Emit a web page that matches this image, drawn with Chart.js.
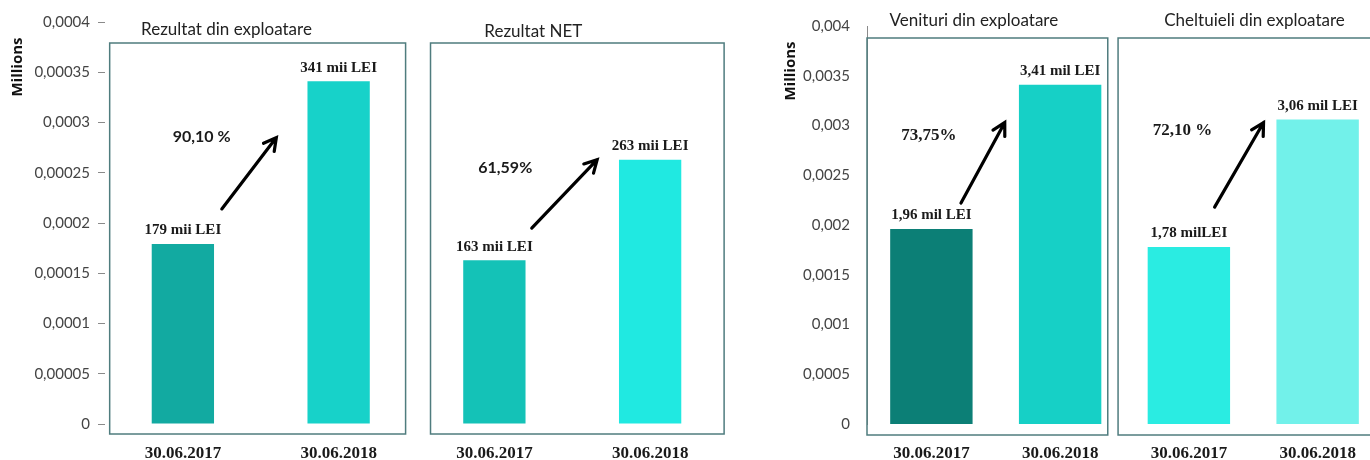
<!DOCTYPE html>
<html>
<head>
<meta charset="utf-8">
<script src="https://cdn.jsdelivr.net/npm/chart.js@4.4.1/dist/chart.umd.min.js"></script>
<style>
  body { margin: 0; background: #fff; overflow: hidden; width: 1370px; height: 460px; position: relative; }
  #left { position: absolute; left: 0; top: 0; }
  #right { position: absolute; left: 745px; top: 0; }
</style>
</head>
<body>
<canvas id="left" width="740" height="460"></canvas>
<canvas id="right" width="640" height="460"></canvas>
<script>
const dates = ["30.06.2017", "30.06.2018"];

const rezultatExploatare = [0.000179, 0.000341];
const rezultatNet = [0.000163, 0.000263];
const venituriExploatare = [0.00196, 0.00341];
const cheltuieliExploatare = [0.00178, 0.00306];

const labelsLeft = ["179 mii LEI", "341 mii LEI", "163 mii LEI", "263 mii LEI"];
const labelsRight = ["1,96 mil LEI", "3,41 mil LEI", "1,78 milLEI", "3,06 mil LEI"];

const growthLeft = ["90,10 %", "61,59%"];
const growthRight = ["73,75%", "72,10 %"];

const titlesLeft = ["Rezultat din exploatare", "Rezultat NET"];
const titlesRight = ["Venituri din exploatare", "Cheltuieli din exploatare"];

const ticksLeft = [0, 0.00005, 0.0001, 0.00015, 0.0002, 0.00025, 0.0003, 0.00035, 0.0004];
const ticksRight = [0, 0.0005, 0.001, 0.0015, 0.002, 0.0025, 0.003, 0.0035, 0.004];

const unitTitle = "Millions";

// draws the panel frames, titles, value labels, growth % and arrows
const panelPlugin = {
  id: "panels",
  afterDatasetsDraw(chart, args, opts) {
    const ctx = chart.ctx;
    const xs = chart.scales.x;
    const ys = chart.scales.y;
    const area = chart.chartArea;
    ctx.save();

    ctx.strokeStyle = "#4f7c7e";
    ctx.lineWidth = 1.5;
    opts.boxes.forEach(b => {
      const x1 = xs.getPixelForValue(b[0]);
      const x2 = xs.getPixelForValue(b[1]);
      const y1 = area.top + opts.boxTop;
      const y2 = area.bottom + opts.boxBottom;
      ctx.strokeRect(x1, y1, x2 - x1, y2 - y1);
    });

    // panel titles
    ctx.fillStyle = "#222";
    ctx.font = "17px Lato";
    ctx.textAlign = "center";
    ctx.textBaseline = "middle";
    opts.titles.forEach((t, i) => {
      ctx.fillText(opts.titleText[i], xs.getPixelForValue(t[0]), t[1]);
    });

    // value labels over bars
    ctx.font = "bold 15px 'Liberation Serif'";
    ctx.textBaseline = "bottom";
    ctx.fillStyle = "#1a1a1a";
    chart.getDatasetMeta(0).data.forEach((bar, i) => {
      ctx.fillText(opts.valueLabels[i], bar.x, bar.y - 6);
    });

    // growth percentages
    ctx.font = opts.growthFont;
    ctx.textBaseline = "middle";
    opts.growth.forEach((g, i) => {
      ctx.fillText(opts.growthText[i], xs.getPixelForValue(g[0]), ys.getPixelForValue(g[1]));
    });

    // arrows
    ctx.strokeStyle = "#000";
    ctx.lineWidth = 3.2;
    ctx.lineCap = "round";
    opts.arrows.forEach(a => {
      const x1 = xs.getPixelForValue(a[0]), y1 = ys.getPixelForValue(a[1]);
      const x2 = xs.getPixelForValue(a[2]), y2 = ys.getPixelForValue(a[3]);
      const ang = Math.atan2(y2 - y1, x2 - x1);
      ctx.beginPath();
      ctx.moveTo(x1, y1);
      ctx.lineTo(x2, y2);
      ctx.moveTo(x2 - 14 * Math.cos(ang - 0.5), y2 - 14 * Math.sin(ang - 0.5));
      ctx.lineTo(x2, y2);
      ctx.lineTo(x2 - 14 * Math.cos(ang + 0.5), y2 - 14 * Math.sin(ang + 0.5));
      ctx.stroke();
    });

    // unit title
    ctx.save();
    ctx.translate(opts.unitX, area.top + 45);
    ctx.rotate(-Math.PI / 2);
    ctx.font = "bold 15px 'Open Sans'";
    ctx.fillStyle = "#111";
    ctx.textAlign = "center";
    ctx.textBaseline = "middle";
    ctx.fillText(unitTitle, 0, 0);
    ctx.restore();

    ctx.restore();
  }
};

function fmt(v) {
  return String(v).replace(".", ",");
}

function makeChart(id, values, colors, tickValues, barPct, yWidth, padRight, tickOpts, panels) {
  return new Chart(document.getElementById(id), {
    type: "bar",
    data: {
      labels: [...dates, ...dates],
      datasets: [{
        data: values,
        backgroundColor: colors,
        borderWidth: 0,
        barPercentage: barPct,
        categoryPercentage: 1
      }]
    },
    options: {
      responsive: false,
      animation: false,
      layout: { padding: { top: 22, right: padRight, left: 0, bottom: 0 } },
      plugins: {
        legend: { display: false },
        tooltip: { enabled: false },
        panels: panels
      },
      scales: {
        x: {
          grid: { display: false, drawTicks: false },
          border: { display: false },
          ticks: {
            padding: 19,
            maxRotation: 0,
            autoSkip: false,
            color: "#1a1a1a",
            font: { family: "Liberation Serif", weight: "bold", size: 17 }
          },
          afterFit(scale) { scale.height = 36; }
        },
        y: {
          min: tickValues[0],
          max: tickValues[tickValues.length - 1],
          afterBuildTicks(scale) { scale.ticks = tickValues.map(v => ({ value: v })); },
          grid: tickOpts.grid,
          border: tickOpts.border,
          ticks: {
            padding: tickOpts.padding,
            color: "#444",
            font: { family: "Lato", size: 15 },
            callback: v => fmt(v)
          },
          afterFit(scale) { scale.width = yWidth; }
        }
      }
    },
    plugins: [panelPlugin]
  });
}

makeChart("left",
  [...rezultatExploatare, ...rezultatNet],
  ["#12aaa1", "#17d2c9", "#14c2b7", "#20e9e1"],
  ticksLeft, 0.4, 105, 12,
  {
    grid: { display: true, drawOnChartArea: false, drawTicks: true, tickLength: 7, color: "#8a8a8a" },
    border: { display: false },
    padding: 8
  },
  {
    boxes: [[-0.47, 1.43], [1.59, 3.475]],
    boxTop: 21, boxBottom: 10,
    titles: [[0.28, 30], [2.25, 32]],
    titleText: titlesLeft,
    valueLabels: labelsLeft,
    growth: [[0.12, 0.000286], [2.07, 0.000255]],
    growthText: growthLeft,
    growthFont: "bold 16px Lato",
    arrows: [[0.25, 0.000214, 0.6, 0.000285], [2.24, 0.000195, 2.66, 0.000263]],
    unitX: 18
  });

makeChart("right",
  [...venituriExploatare, ...cheltuieliExploatare],
  ["#0c7f76", "#16d0c6", "#2aece2", "#72f1ea"],
  ticksRight, 0.64, 122, 3,
  {
    grid: { display: false, drawTicks: false },
    border: { display: true, color: "#8a8a8a", width: 1 },
    padding: 17
  },
  {
    boxes: [[-0.5, 1.37], [1.45, 3.6]],
    boxTop: 12, boxBottom: 11,
    titles: [[0.33, 21], [2.51, 21]],
    titleText: titlesRight,
    valueLabels: labelsRight,
    growth: [[-0.02, 0.0029], [1.95, 0.00295]],
    growthText: growthRight,
    growthFont: "bold 17px 'Liberation Serif'",
    arrows: [[0.23, 0.00222, 0.57, 0.00303], [2.2, 0.00218, 2.58, 0.00303]],
    unitX: 46
  });
</script>
</body>
</html>
